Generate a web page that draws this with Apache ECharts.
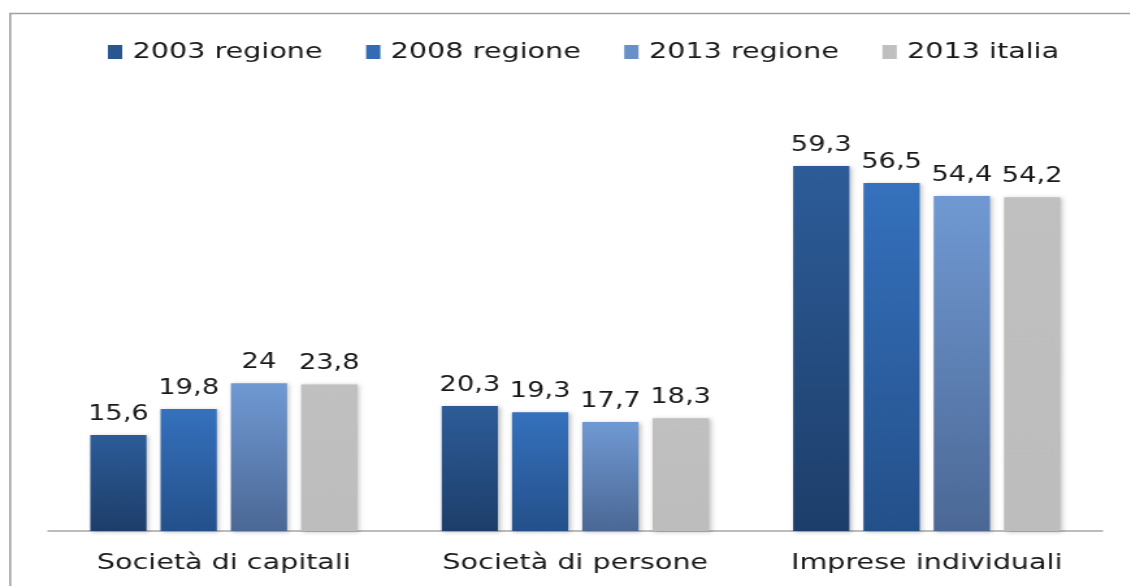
<!DOCTYPE html>
<html>
<head>
<meta charset="utf-8">
<script src="https://cdn.jsdelivr.net/npm/echarts@6/dist/echarts.min.js"></script>
<style>
html, body { margin: 0; padding: 0; background: #fff; overflow: hidden; }
/* il grafico originale e' stirato in orizzontale: si disegna stretto e poi si allarga */
#chart { width: 869px; height: 586px; transform: scaleX(1.3); transform-origin: 0 0; }
</style>
</head>
<body>
<div id="chart"></div>
<script>
var categories = ['Società di capitali', 'Società di persone', 'Imprese individuali'];
var seriesNames = ['2003 regione', '2008 regione', '2013 regione', '2013 italia'];
var v2003reg = [15.6, 20.3, 59.3];
var v2008reg = [19.8, 19.3, 56.5];
var v2013reg = [24, 17.7, 54.4];
var v2013ita = [23.8, 18.3, 54.2];

// colori: alto / basso del gradiente
var topColors = ['#2d5c98', '#3571bd', '#7099d3', '#c0c0c0'];
var bottomColors = ['#1d3e6a', '#24508a', '#4b6895', '#bdbdbd'];
var legendColors = ['#2a5690', '#336cb4', '#6a90c8', '#bfbfbf'];

var FONT = 'DejaVu Sans';

function fmt(v) {
	return String(v).replace('.', ',');
}

function makeSeries(i, data) {
	return {
		name: seriesNames[i],
		type: 'bar',
		data: data,
		barGap: '25%',
		barCategoryGap: '24%',
		itemStyle: {
			color: new echarts.graphic.LinearGradient(0, 0, 0, 1, [
				{ offset: 0, color: topColors[i] },
				{ offset: 1, color: bottomColors[i] }
			]),
			shadowColor: 'rgba(0,0,0,0.25)',
			shadowBlur: 4,
			shadowOffsetX: 1.5,
			shadowOffsetY: 1
		},
		label: {
			show: true,
			position: 'top',
			distance: 10,
			fontFamily: FONT,
			fontSize: 21,
			color: '#1a1a1a',
			formatter: function (p) { return fmt(p.value); }
		}
	};
}

var chart = echarts.init(document.getElementById('chart'));
var option = {
	animation: false,
	backgroundColor: '#fff',
	graphic: [{
		type: 'rect',
		shape: { x: 7.8, y: 13.5, width: 1000, height: 700 },
		style: { fill: 'none', stroke: '#a0a0a0', lineWidth: 1.6 },
		z: 0
	}],
	legend: {
		data: seriesNames.map(function (n, i) {
			return { name: n, itemStyle: { color: legendColors[i] } };
		}),
		top: 36,
		left: 78,
		itemWidth: 11,
		itemHeight: 14,
		itemGap: 33.5,
		icon: 'rect',
		textStyle: { fontFamily: FONT, fontSize: 22, color: '#1a1a1a', padding: [0, 0, 0, 3] }
	},
	grid: { left: 37, right: 21, top: 100, bottom: 55 },
	xAxis: {
		type: 'category',
		data: categories,
		axisLine: { lineStyle: { color: '#a6a6a6', width: 1.5 } },
		axisTick: { show: false },
		axisLabel: { interval: 0, fontFamily: FONT, fontSize: 22, color: '#1a1a1a', margin: 21 }
	},
	yAxis: {
		type: 'value',
		min: 0,
		max: 70,
		show: false
	},
	series: [
		makeSeries(0, v2003reg),
		makeSeries(1, v2008reg),
		makeSeries(2, v2013reg),
		makeSeries(3, v2013ita)
	]
};
chart.setOption(option);
</script>
</body>
</html>
